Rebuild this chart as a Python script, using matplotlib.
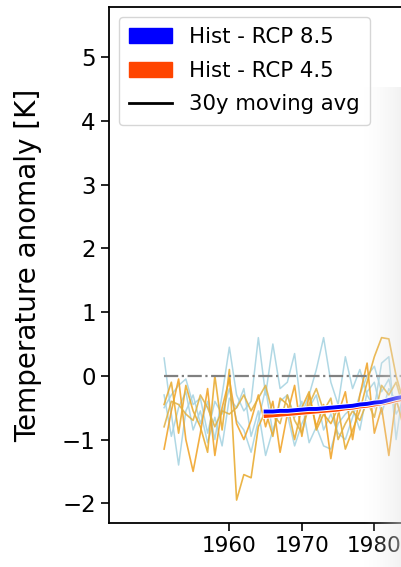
import numpy as np
import matplotlib
matplotlib.use("Agg")
import matplotlib.pyplot as plt
import matplotlib.patheffects as pe
from matplotlib.patches import Patch
from matplotlib.lines import Line2D
from matplotlib.ticker import MultipleLocator

years = list(range(1951, 1985))

orange_1 = [-1.15, -0.55, -0.05, -1.0, -1.5, -0.9, -0.2, -1.25, -0.5, -0.05,
            -0.75, -1.0, -0.7, -0.3, -0.8, -0.4, -1.2, -0.6, -0.15, -0.95,
            -0.3, -0.8, -0.45, -1.3, -0.6, -0.25, -1.0, -0.3, 0.2, -0.9,
            -0.5, -1.25, -0.35, -0.8]
orange_2 = [-0.45, -0.1, -0.9, -0.15, -0.55, -0.8, -1.2, 0.0, -0.85, 0.1,
            -1.95, -1.55, -1.6, -0.8, -0.55, -0.95, -0.35, -0.45, -1.0, -0.5,
            -0.25, -0.85, -0.6, -0.75, -0.5, -1.15, -0.85, -0.55, -0.1, 0.3,
            0.6, 0.58, 0.0, -0.4]
orange_3 = [-0.8, -0.4, -0.45, -0.6, -0.7, -0.3, -0.5, -0.8, -0.55, -0.6,
            -0.5, -0.3, -0.55, -0.35, -0.15, -0.6, -0.75, -0.3, -0.7, -0.9,
            -0.45, -0.2, -0.55, -0.35, -1.0, -0.75, -0.55, -0.7, -0.4, -0.65,
            -0.15, -0.3, -0.1, -0.5]
blue_1 = [0.28, -0.6, -1.4, -0.55, -0.3, -0.75, -0.4, -1.0, -0.3, 0.45,
          -0.3, -0.55, -0.4, 0.6, -0.3, 0.5, -0.2, -0.1, 0.35, -0.6,
          -0.3, 0.1, 0.6, -0.1, -0.45, 0.3, -0.2, 0.1, -0.3, -0.5,
          0.2, 0.3, -1.0, -0.2]
blue_2 = [-0.5, -0.3, -0.15, -0.05, -0.45, -0.35, -0.9, -0.4, -0.6, -0.2,
          -0.7, -0.85, -1.2, -0.7, -0.2, -0.9, -0.4, -0.3, -0.65, -0.4,
          -1.05, -0.8, -1.1, -1.15, -0.75, -0.6, -0.5, -0.85, -0.25, -0.1,
          -0.6, -0.2, -0.4, -0.7]
blue_3 = [-0.3, -0.95, -0.5, -0.25, -0.85, -0.55, -1.05, -0.65, -1.1, -0.35,
          -0.5, -0.2, -0.95, -0.55, -1.25, -0.85, -0.55, -0.6, -1.1, -0.75,
          -0.5, -0.3, -0.85, -0.6, -0.9, -1.0, -0.65, -0.3, 0.0, 0.15,
          -0.25, -0.05, -0.6, -0.4]

ma_years = list(range(1965, 1985))
ma_rcp85 = [-0.56, -0.56, -0.55, -0.55, -0.54, -0.53, -0.52, -0.52, -0.51, -0.50,
            -0.49, -0.48, -0.47, -0.45, -0.44, -0.42, -0.41, -0.38, -0.35, -0.33]
ma_rcp45 = [-0.63, -0.62, -0.61, -0.60, -0.59, -0.58, -0.57, -0.56, -0.55, -0.54,
            -0.53, -0.51, -0.50, -0.48, -0.47, -0.45, -0.43, -0.41, -0.38, -0.36]

x_ticks = [1960, 1970, 1980, 1990, 2000, 2010, 2020, 2030, 2040, 2050,
           2060, 2070, 2080, 2090, 2100]
legend_labels = ["Hist - RCP 8.5", "Hist - RCP 4.5", "30y moving avg"]

fig = plt.figure(figsize=(4.01, 5.67), dpi=100)
ax = fig.add_axes([109/401, 44/567, 156.6*7.25/401, 516/567])

for s in [blue_1, blue_2, blue_3]:
    ax.plot(years, s, color="#A8D4E2", lw=1.1, alpha=0.9, zorder=2)
for s, c in [(orange_1, "#F0A020"), (orange_2, "#E8A828"), (orange_3, "#E0B040")]:
    ax.plot(years, s, color=c, lw=1.2, alpha=0.85, zorder=3)

ax.plot(years, np.zeros(len(years)), color="gray", ls="-.", lw=1.6, zorder=4)

stroke = [pe.Stroke(linewidth=4.2, foreground="white"), pe.Normal()]
ax.plot(ma_years, ma_rcp45, color="#FF4500", lw=2.8, zorder=5, path_effects=stroke)
ax.plot(ma_years, ma_rcp85, color="#0000FF", lw=2.8, zorder=6, path_effects=stroke)

ax.set_xlim(1943.4, 2100)
ax.set_ylim(-2.31, 5.79)
ax.set_xticks(x_ticks)
ax.yaxis.set_major_locator(MultipleLocator(1))
ax.tick_params(axis="x", labelsize=15.5, length=6, width=1.2)
ax.tick_params(axis="y", labelsize=16.5, length=6, width=1.2)
for sp in ax.spines.values():
    sp.set_linewidth(1.3)
ax.set_ylabel("Temperature anomaly [K]", fontsize=20, labelpad=14)
ax.yaxis.set_label_coords(-0.0, 0.51, transform=None) if False else None

handles = [Patch(color="#0000FF"), Patch(color="#FF4500"),
           Line2D([0], [0], color="black", lw=2)]
ax.legend(handles, legend_labels, loc="upper left", fontsize=15.3,
          labelspacing=0.64, handlelength=2.0, borderpad=0.5,
          borderaxespad=0.45)

# light screen-edge shading on the right
sh = fig.add_axes([362/401, 0, 39/401, 480/567], zorder=10)
grad = np.linspace(0, 1, 100) ** 1.5
img = np.ones((1, 100, 4))
img[..., :3] = 0.90
img[0, :, 3] = grad * 0.5
sh.imshow(img, aspect="auto", extent=[0, 1, 0, 1])
sh.set_axis_off()

fig.savefig("out.png", dpi=100)
